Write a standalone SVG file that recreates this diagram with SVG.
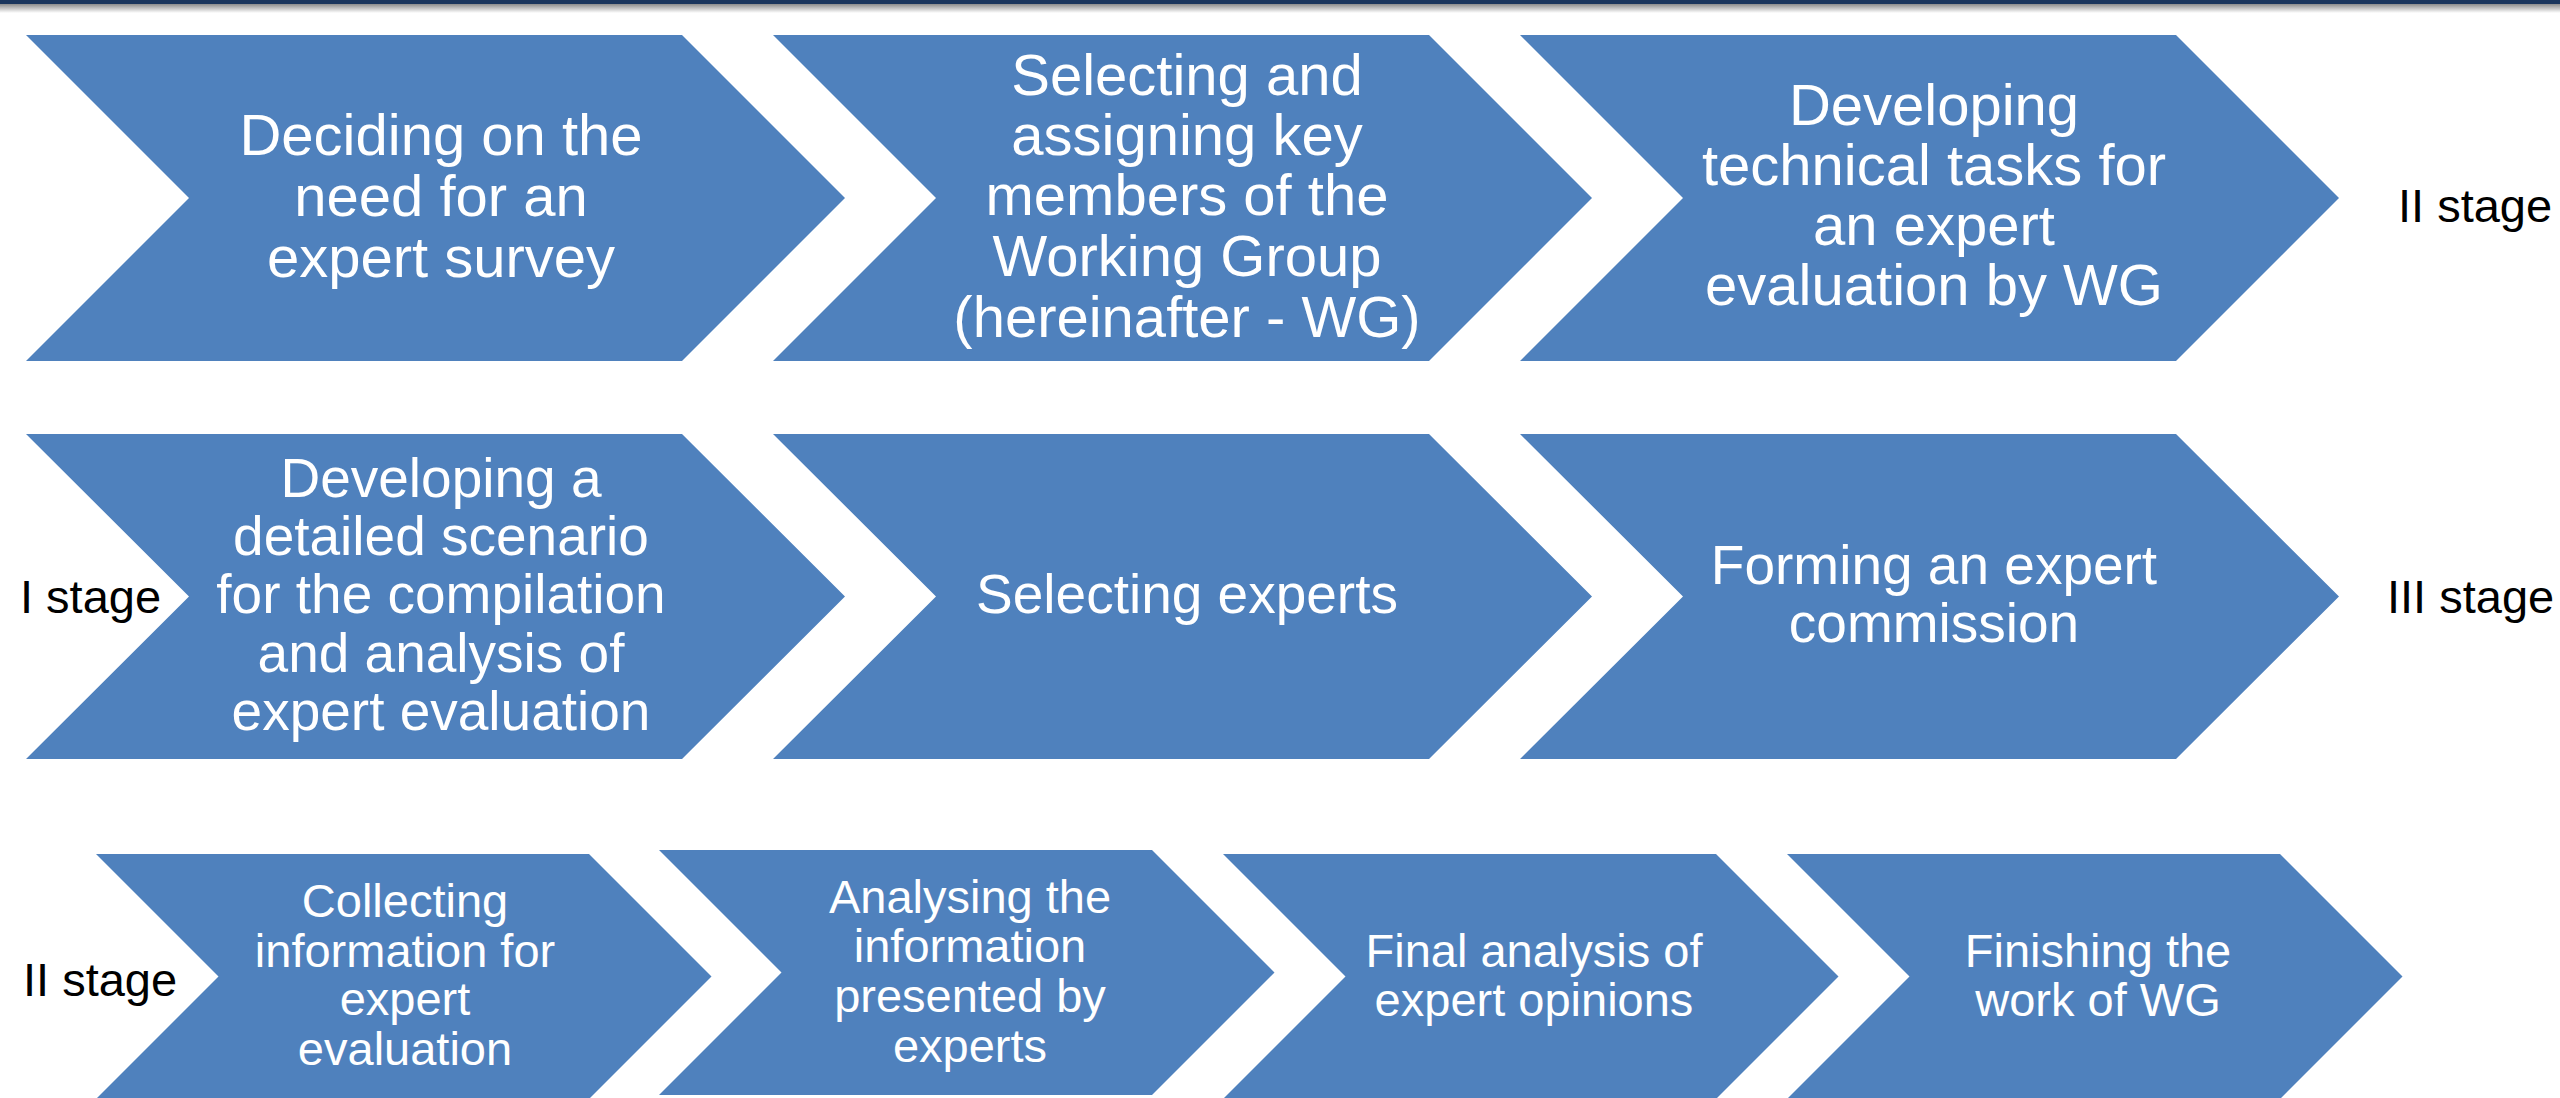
<svg xmlns="http://www.w3.org/2000/svg" width="2560" height="1098" viewBox="0 0 2560 1098">
<defs>
<linearGradient id="shadow" x1="0" y1="0" x2="0" y2="1">
<stop offset="0" stop-color="#8c8c8c"/>
<stop offset="1" stop-color="#ffffff"/>
</linearGradient>
</defs>
<style>
.chev{fill:#4F81BD;}
.t1{font-family:"Liberation Sans",Arial,sans-serif;font-size:58px;fill:#ffffff;text-anchor:middle;}
.t2{font-family:"Liberation Sans",Arial,sans-serif;font-size:55px;fill:#ffffff;text-anchor:middle;}
.t3{font-family:"Liberation Sans",Arial,sans-serif;font-size:47px;fill:#ffffff;text-anchor:middle;}
.lbl{font-family:"Liberation Sans",Arial,sans-serif;font-size:47px;fill:#000000;}
</style>
<rect x="0" y="0" width="2560" height="1098" fill="#ffffff"/>
<rect x="0" y="4" width="2560" height="9" fill="url(#shadow)"/>
<rect x="0" y="0" width="2560" height="4" fill="#1B365D"/>
<g id="connectors"></g>

<g id="n1">
<polygon class="chev" points="26,35 682,35 845,198 682,361 26,361 189,198"/>
<text class="t1" x="441"><tspan x="441" y="155">Deciding on the</tspan><tspan x="441" y="216">need for an</tspan><tspan x="441" y="277">expert survey</tspan></text>
</g>
<g id="n2">
<polygon class="chev" points="773,35 1429,35 1592,198 1429,361 773,361 936,198"/>
<text class="t1"><tspan x="1187" y="95">Selecting and</tspan><tspan x="1187" y="155">assigning key</tspan><tspan x="1187" y="215">members of the</tspan><tspan x="1187" y="276">Working Group</tspan><tspan x="1187" y="337">(hereinafter - WG)</tspan></text>
</g>
<g id="n3">
<polygon class="chev" points="1520,35 2176,35 2339,198 2176,361 1520,361 1683,198"/>
<text class="t1"><tspan x="1934" y="125">Developing</tspan><tspan x="1934" y="185">technical tasks for</tspan><tspan x="1934" y="245">an expert</tspan><tspan x="1934" y="305">evaluation by WG</tspan></text>
</g>
<g id="lbl-r1">
<text class="lbl" x="2398" y="222">II stage</text>
</g>

<g id="n4">
<polygon class="chev" points="26,434 682,434 845,596.5 682,759 26,759 189,596.5"/>
<text class="t2"><tspan x="441" y="497">Developing a</tspan><tspan x="441" y="555">detailed scenario</tspan><tspan x="441" y="613">for the compilation</tspan><tspan x="441" y="672">and analysis of</tspan><tspan x="441" y="730">expert evaluation</tspan></text>
</g>
<g id="n5">
<polygon class="chev" points="773,434 1429,434 1592,596.5 1429,759 773,759 936,596.5"/>
<text class="t2" x="1187" y="613">Selecting experts</text>
</g>
<g id="n6">
<polygon class="chev" points="1520,434 2176,434 2339,596.5 2176,759 1520,759 1683,596.5"/>
<text class="t2"><tspan x="1934" y="584">Forming an expert</tspan><tspan x="1934" y="642">commission</tspan></text>
</g>
<g id="lbl-r2">
<text class="lbl" x="20" y="613">I stage</text>
<text class="lbl" x="2387" y="613">III stage</text>
</g>

<g id="n7">
<polygon class="chev" points="96,854 589,854 711.5,976.5 589,1099 96,1099 218.5,976.5"/>
<text class="t3"><tspan x="405" y="917">Collecting</tspan><tspan x="405" y="967">information for</tspan><tspan x="405" y="1015">expert</tspan><tspan x="405" y="1065">evaluation</tspan></text>
</g>
<g id="n8">
<polygon class="chev" points="659,850 1152,850 1274.5,972.5 1152,1095 659,1095 781.5,972.5"/>
<text class="t3"><tspan x="970" y="913">Analysing the</tspan><tspan x="970" y="962">information</tspan><tspan x="970" y="1012">presented by</tspan><tspan x="970" y="1062">experts</tspan></text>
</g>
<g id="n9">
<polygon class="chev" points="1223,854 1716,854 1838.5,976.5 1716,1099 1223,1099 1345.5,976.5"/>
<text class="t3"><tspan x="1534" y="967">Final analysis of</tspan><tspan x="1534" y="1016">expert opinions</tspan></text>
</g>
<g id="n10">
<polygon class="chev" points="1787,854 2280,854 2402.5,976.5 2280,1099 1787,1099 1909.5,976.5"/>
<text class="t3"><tspan x="2098" y="967">Finishing the</tspan><tspan x="2098" y="1016">work of WG</tspan></text>
</g>
<g id="lbl-r3">
<text class="lbl" x="23" y="996">II stage</text>
</g>
</svg>
